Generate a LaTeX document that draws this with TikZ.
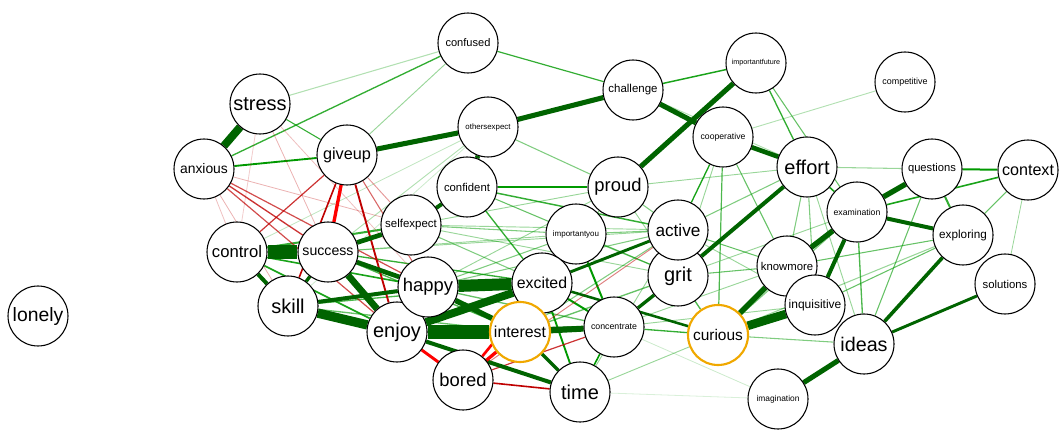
\documentclass[tikz,border=0pt]{standalone}
\usepackage{fontspec}
\setmainfont{Liberation Sans}
\usetikzlibrary{backgrounds}

% edge colours (positive / negative, weak / strong)
\definecolor{posweak}{HTML}{009900}
\definecolor{posstrong}{HTML}{006400}
\definecolor{negweak}{HTML}{BF0000}
\definecolor{negstrong}{HTML}{FF0000}
\definecolor{hilite}{HTML}{F0A800}

\tikzset{
  vert/.style={circle, draw=black, line width=0.8pt, fill=white,
    minimum size=45pt, inner sep=0pt},
  picked/.style={vert, draw=hilite, line width=1.6pt},
  fs/.style={font=\fontsize{#1}{#1}\selectfont},
  sp/.style={draw=posstrong, line width=#1},
  wp/.style 2 args={draw=posweak, line width=#1, draw opacity=#2},
  sn/.style={draw=negstrong, line width=#1},
  wn/.style 2 args={draw=negweak, line width=#1, draw opacity=#2},
}

\begin{document}
\begin{tikzpicture}[x=0.75pt, y=-0.75pt]
\useasboundingbox (0,0) rectangle (1059,431);
% Nodes (pixel positions)
\node[vert, fs=14.5pt] (lonely) at (38,316) {lonely};
\node[vert, fs=15pt] (stress) at (260,104) {stress};
\node[vert, fs=10.4pt] (anxious) at (204,169) {anxious};
\node[vert, fs=12.2pt] (giveup) at (347,155) {giveup};
\node[vert, fs=8.3pt] (confused) at (468,43) {confused};
\node[vert, fs=5.9pt] (othersexpect) at (488,127) {othersexpect};
\node[vert, fs=8.5pt] (confident) at (467,187) {confident};
\node[vert, fs=8.6pt] (challenge) at (633,90) {challenge};
\node[vert, fs=5.4pt] (importantfuture) at (756,63) {importantfuture};
\node[vert, fs=6.5pt] (cooperative) at (723,137) {cooperative};
\node[vert, fs=13.8pt] (proud) at (618,187) {proud};
\node[vert, fs=6.7pt] (competitive) at (905,82) {competitive};
\node[vert, fs=15pt] (effort) at (807,167) {effort};
\node[vert, fs=8.4pt] (questions) at (932,169) {questions};
\node[vert, fs=12.1pt] (context) at (1028,170) {context};
\node[vert, fs=6.5pt] (examination) at (857,212) {examination};
\node[vert, fs=8.8pt] (exploring) at (963,235) {exploring};
\node[vert, fs=8.5pt] (solutions) at (1005,284) {solutions};
\node[vert, fs=8.5pt] (knowmore) at (787,266) {knowmore};
\node[vert, fs=9pt] (inquisitive) at (815,305) {inquisitive};
\node[vert, fs=14.8pt] (ideas) at (864,344) {ideas};
\node[vert, fs=6.3pt] (imagination) at (778,399) {imagination};
\node[picked, fs=11.6pt] (curious) at (718,335) {curious};
\node[vert, fs=15pt] (grit) at (678,276) {grit};
\node[vert, fs=12.9pt] (active) at (678,230) {active};
\node[vert, fs=6pt] (importantyou) at (576,234) {importantyou};
\node[vert, fs=11.9pt] (excited) at (542,283) {excited};
\node[picked, fs=11.9pt] (interest) at (520,332) {interest};
\node[vert, fs=6.6pt] (concentrate) at (614,327) {concentrate};
\node[vert, fs=15pt] (time) at (580,392) {time};
\node[vert, fs=13.8pt] (bored) at (463,380) {bored};
\node[vert, fs=15pt] (enjoy) at (397,332) {enjoy};
\node[vert, fs=13.8pt] (happy) at (428,287) {happy};
\node[vert, fs=15pt] (skill) at (288,306) {skill};
\node[vert, fs=12.5pt] (control) at (237,252) {control};
\node[vert, fs=10.6pt] (success) at (328,252) {success};
\node[vert, fs=8.6pt] (selfexpect) at (411,225) {selfexpect};
% Edges, weak first
\begin{scope}[on background layer]
\foreach \a/\b/\w/\o in {stress/giveup/0.8pt/.8, anxious/giveup/1.4pt/1,
  anxious/confused/1pt/.8, stress/confused/0.8pt/.3, giveup/confused/0.7pt/.4,
  confused/challenge/0.9pt/.8, challenge/importantfuture/1.1pt/.9,
  challenge/effort/0.7pt/.3, othersexpect/proud/0.8pt/.5,
  othersexpect/success/0.7pt/.3, othersexpect/control/0.6pt/.25,
  othersexpect/skill/0.6pt/.2, confident/proud/1.5pt/1,
  confident/active/1.1pt/.8, confident/excited/1pt/.8, confident/grit/0.8pt/.6,
  importantyou/concentrate/1.5pt/1, importantyou/excited/1pt/.8,
  importantyou/active/0.8pt/.5, importantyou/grit/0.8pt/.5,
  proud/active/0.8pt/.5, proud/excited/0.8pt/.5, proud/grit/0.7pt/.4,
  proud/effort/0.7pt/.4, cooperative/active/1pt/.9, cooperative/curious/0.9pt/.7,
  cooperative/knowmore/0.8pt/.6, cooperative/grit/0.7pt/.4,
  competitive/cooperative/0.7pt/.3, importantfuture/effort/1pt/.8,
  importantfuture/examination/0.8pt/.6, effort/questions/0.8pt/.4,
  effort/examination/1.2pt/.9, effort/knowmore/0.8pt/.5,
  effort/inquisitive/0.8pt/.5, effort/ideas/0.7pt/.4, effort/active/0.8pt/.5,
  questions/context/1.5pt/1, context/examination/1.2pt/.9,
  context/exploring/0.8pt/.6, context/solutions/0.6pt/.4,
  questions/exploring/1.5pt/.8, questions/ideas/0.8pt/.6,
  examination/ideas/1pt/.7, examination/curious/0.8pt/.5,
  examination/grit/0.7pt/.4, exploring/knowmore/0.8pt/.6,
  exploring/inquisitive/0.8pt/.6, exploring/curious/0.8pt/.4,
  curious/ideas/0.8pt/.5, concentrate/curious/1pt/.8, grit/curious/1pt/.7,
  grit/knowmore/0.8pt/.6, active/knowmore/0.8pt/.6,
  active/inquisitive/0.7pt/.4, concentrate/knowmore/0.7pt/.4,
  concentrate/inquisitive/0.7pt/.4, concentrate/imagination/0.6pt/.2,
  time/concentrate/1.2pt/1, time/excited/1.4pt/1, time/curious/0.7pt/.4,
  time/imagination/0.6pt/.15, time/active/0.7pt/.4,
  selfexpect/excited/0.8pt/.5, selfexpect/importantyou/0.8pt/.5,
  selfexpect/proud/0.7pt/.4, selfexpect/active/0.7pt/.4,
  selfexpect/grit/0.7pt/.4, happy/importantyou/0.8pt/.5,
  happy/active/0.8pt/.5, happy/proud/0.7pt/.4, success/importantyou/0.7pt/.4,
  success/active/0.7pt/.4, success/excited/1pt/.8, success/interest/1pt/.7,
  control/happy/1.2pt/.9, control/enjoy/1.2pt/.9, control/selfexpect/1.5pt/.8,
  skill/excited/1pt/.7, skill/interest/1pt/.6, excited/concentrate/1.5pt/1,
  happy/concentrate/1pt/.6, interest/grit/1pt/.6, interest/active/0.8pt/.5,
  happy/enjoy/2pt/1, grit/active/1pt/.8, knowmore/inquisitive/1pt/.8}
  \draw[wp={\w}{\o}] (\a) -- (\b);
\foreach \a/\b/\w/\o in {giveup/skill/1.2pt/1, giveup/enjoy/1.4pt/1,
  giveup/happy/0.8pt/.6, giveup/control/0.9pt/.8, giveup/selfexpect/0.7pt/.4,
  anxious/success/1pt/.8, anxious/happy/0.9pt/.7, anxious/enjoy/0.9pt/.7,
  anxious/skill/0.6pt/.3, anxious/control/0.6pt/.25, anxious/selfexpect/0.6pt/.3,
  stress/success/0.6pt/.3, stress/happy/0.6pt/.25, stress/control/0.6pt/.2,
  bored/time/1.2pt/1, bored/concentrate/0.9pt/.8, bored/active/0.7pt/.5}
  \draw[wn={\w}{\o}] (\a) -- (\b);
% strong edges
\foreach \a/\b/\w in {stress/anxious/6pt, giveup/othersexpect/3.8pt,
  othersexpect/challenge/3.8pt, challenge/cooperative/3.8pt,
  proud/importantfuture/3.8pt, cooperative/effort/3.5pt, effort/grit/3pt,
  othersexpect/confident/3.5pt, confident/selfexpect/3pt,
  control/success/10pt, control/skill/3pt, success/skill/2.5pt,
  skill/enjoy/7pt, skill/happy/3pt, success/enjoy/5pt, success/happy/3.5pt,
  success/selfexpect/3.5pt, happy/excited/9pt, enjoy/interest/11pt,
  enjoy/excited/6pt, happy/interest/4pt, interest/concentrate/4.5pt,
  enjoy/concentrate/2.5pt, enjoy/time/3pt, interest/time/2.5pt,
  excited/active/2.2pt, excited/curious/1.9pt, concentrate/grit/2.5pt,
  curious/knowmore/4pt, curious/inquisitive/6.5pt, examination/knowmore/4pt,
  examination/inquisitive/3pt, examination/questions/4pt,
  examination/exploring/3pt, exploring/ideas/2.7pt, ideas/solutions/2.2pt,
  ideas/imagination/3.8pt}
  \draw[sp=\w] (\a) -- (\b);
\foreach \a/\b/\w in {giveup/success/2.5pt, interest/bored/2.5pt,
  excited/bored/2pt, enjoy/bored/2.2pt}
  \draw[sn=\w] (\a) -- (\b);
\end{scope}
\end{tikzpicture}
\end{document}
